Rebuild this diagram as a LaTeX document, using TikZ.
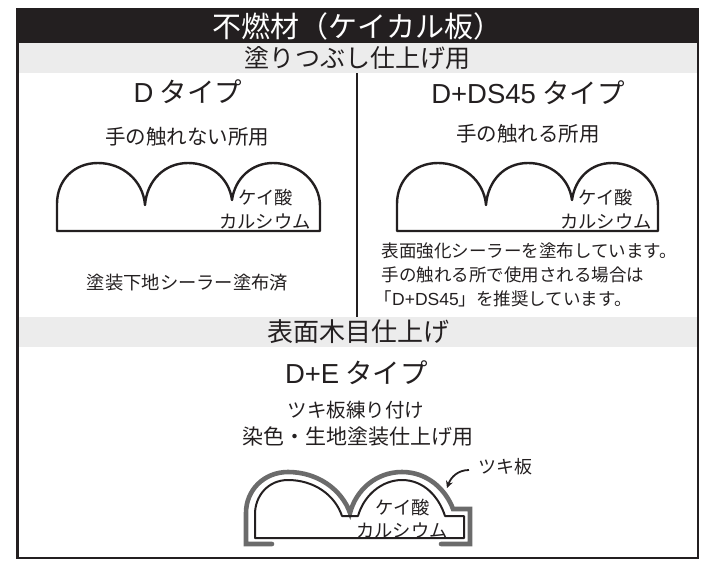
\documentclass[tikz,border=0pt]{standalone}
\usepackage{fontspec}
\usetikzlibrary{arrows.meta}
\setmainfont{Noto Sans CJK JP}
\newfontfamily\lat{Liberation Sans}
\definecolor{bandgray}{gray}{0.925}
\definecolor{tsuki}{gray}{0.42}
\definecolor{ink}{HTML}{231F20}
\newcommand{\fsz}[1]{\fontsize{#1}{#1}\selectfont}
\tikzset{
 lab/.style={inner sep=0pt,text=ink,align=center},
 lab20/.style={lab,font=\fsz{20.5}},
 head/.style={lab,font=\fsz{27.5}},
 kei/.style={lab,font=\fsz{18.3}},
 shapeline/.style={draw=ink,line width=2.4pt,line join=round},
 board/.style={draw=tsuki,line width=4.6pt,line cap=round,line join=miter},
}
\begin{document}
\begin{tikzpicture}[x=1pt,y=-1pt]
\useasboundingbox (0,0) rectangle (703,560);
\fill[bandgray] (17,43) rectangle (697,73);
\fill[bandgray] (17,317) rectangle (697,347);
\fill[ink] (16,8) rectangle (699,43);
\draw[ink,line width=2.6pt] (17.5,8) -- (17.5,558) -- (698,558) -- (698,8);
\draw[ink,line width=2.6pt] (357,73) -- (357,317);
\node[lab,text=white,font=\fsz{29}] (title) at (357.5,26) {不燃材（ケイカル板）};
\node[lab,font=\fsz{25}] (band1) at (357.5,58) {塗りつぶし仕上げ用};
\node[lab,font=\fsz{26}] (band2) at (358,332) {表面木目仕上げ};
\node[head] (d) at (188,92) {{\lat D} タイプ};
\node[head] (dds) at (528,93) {{\lat D+DS45} タイプ};
\node[lab20] (n1) at (187,137) {手の触れない所用};
\node[lab20] (n2) at (528,134) {手の触れる所用};
\node[lab,font=\fsz{18.3}] (n3) at (187.5,283) {塗装下地シーラー塗布済};
\node[lab,font=\fsz{17.5},align=left,anchor=north west] (n4) at (381.5,243) {表面強化シーラーを塗布しています。\\[6.5pt]手の触れる所で使用される場合は\\[6.5pt]\kern-7pt「{\lat D+DS45}」を推奨しています。};
\node[head] (de) at (356.5,373) {{\lat D+E} タイプ};
\node[lab,font=\fsz{19.5}] (n5) at (356,410) {ツキ板練り付け};
\node[lab,font=\fsz{21}] (n6) at (357.5,437) {染色・生地塗装仕上げ用};
% left profile
\draw[shapeline] (57,231) -- (57,204) .. controls (57,180) and (74,163) .. (98,163)
  .. controls (122,163) and (143,180) .. (145,205)
  .. controls (147,180) and (165,163) .. (188,163)
  .. controls (211,163) and (229,178) .. (232,200)
  .. controls (235,178) and (252,163) .. (273,163)
  .. controls (299,163) and (320,182) .. (320,206) -- (320,231) -- cycle;
\node[kei] (k1) at (266,198) {ケイ酸};
\node[kei] (k2) at (265,222) {カルシウム};
% right profile
\draw[shapeline] (397,231) -- (397,204) .. controls (397,180) and (414,163) .. (438,163)
  .. controls (462,163) and (484,180) .. (486,205)
  .. controls (488,180) and (505,163) .. (528,163)
  .. controls (551,163) and (569,178) .. (572,200)
  .. controls (575,178) and (591,163) .. (612,163)
  .. controls (637,163) and (658,182) .. (658,206) -- (658,231) -- cycle;
\node[kei] (k3) at (606,198) {ケイ酸};
\node[kei] (k4) at (606,222) {カルシウム};
% bottom profile
\draw[board] (272,544) -- (246,544) -- (246,513) .. controls (246,490) and (264,472) .. (288,472)
  .. controls (318,472) and (342,490) .. (350,513)
  .. controls (356,490) and (376,472) .. (402,472)
  .. controls (428,472) and (446,490) .. (453,509) -- (470,509) -- (470,544) -- (441,544);
\draw[shapeline,line width=2pt] (255,538) -- (255,514) .. controls (255,496) and (268,480) .. (288,480)
  .. controls (314,480) and (335,495) .. (342,516) -- (358,516)
  .. controls (364,495) and (382,480) .. (402,480)
  .. controls (424,480) and (439,497) .. (445,516) -- (464,516) -- (464,538) -- cycle;
\node[kei] (k5) at (403,508) {ケイ酸};
\node[kei] (k6) at (402,530) {カルシウム};
\node[lab,font=\fsz{18},anchor=west] (tsu) at (478,467) {ツキ板};
\coordinate (tsuend) at (447,488);
\coordinate (tsustart) at (469,470);
\draw[ink,line width=1.8pt,-{Stealth[length=7pt,width=7pt]}] (tsustart) .. controls (458,470) and (451,477) .. (tsuend);
\end{tikzpicture}
\end{document}
